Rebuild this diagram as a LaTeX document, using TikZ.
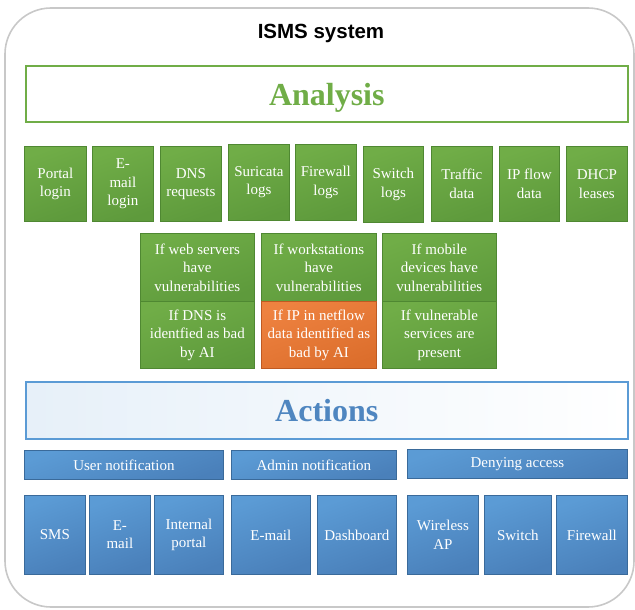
\documentclass[tikz,border=0pt]{standalone}
\usepackage{fontspec}
\setmainfont{Liberation Serif}
\newfontfamily\titlefont{Liberation Sans}
\definecolor{gA}{HTML}{70AD47}
\definecolor{gB}{HTML}{5E9A3C}
\definecolor{gE}{HTML}{4F8832}
\definecolor{oA}{HTML}{EE8240}
\definecolor{oB}{HTML}{DC6E2C}
\definecolor{oE}{HTML}{BF5A22}
\definecolor{bA}{HTML}{5B9BD5}
\definecolor{bB}{HTML}{4A80BA}
\definecolor{bE}{HTML}{3A6A9A}
\definecolor{actblue}{HTML}{4F86C0}
\definecolor{actline}{HTML}{5B9BD5}
\definecolor{outer}{HTML}{C8C8C8}
\begin{document}
\begin{tikzpicture}[x=1pt,y=-1pt,
  base/.style={anchor=north west, inner sep=0pt, align=center, text=white,
    font=\fontsize{15}{18.5}\selectfont, line width=0.8pt},
  gbox/.style={base, draw=gE, top color=gA, bottom color=gB, shading angle=20},
  obox/.style={base, draw=oE, top color=oA, bottom color=oB, shading angle=20},
  bbox/.style={base, draw=bE, top color=bA, bottom color=bB, shading angle=20},
  headbox/.style={anchor=north west, inner sep=0pt, line width=1.6pt,
    font=\fontsize{32}{36}\selectfont\bfseries}
]
\useasboundingbox (0,0) rectangle (635,610);
\draw[outer, line width=1.6pt, rounded corners=46pt] (5,8) rectangle (634,607);
\node[font=\titlefont\bfseries\fontsize{20.5}{24}\selectfont] (title) at (321,33) {ISMS system};

\node[headbox, draw=gA, fill=white, text=gA, minimum width=602pt, minimum height=56pt, text depth=0pt] (analysis) at (25,65) {\raisebox{-2pt}{Analysis}};

\node[gbox, minimum width=62pt, minimum height=75pt] (portal) at (24,146) {Portal\\login};
\node[gbox, minimum width=61pt, minimum height=75pt] (email) at (92,146) {E-\\mail\\login};
\node[gbox, minimum width=61pt, minimum height=75pt] (dns) at (160,146) {DNS\\requests};
\node[gbox, minimum width=61pt, minimum height=76pt] (suricata) at (228,144) {Suricata\\logs};
\node[gbox, minimum width=61pt, minimum height=76pt] (firewall) at (295,144) {Firewall\\logs};
\node[gbox, minimum width=60pt, minimum height=76pt] (switch) at (363,146) {Switch\\logs};
\node[gbox, minimum width=61pt, minimum height=75pt] (traffic) at (431,146) {Traffic\\data};
\node[gbox, minimum width=60pt, minimum height=75pt] (ipflow) at (499,146) {IP flow\\data};
\node[gbox, minimum width=61pt, minimum height=75pt] (dhcp) at (566,146) {DHCP\\leases};

\node[gbox, minimum width=114pt, minimum height=68pt] (web) at (140,233) {If web servers\\have\\vulnerabilities};
\node[gbox, minimum width=115pt, minimum height=68pt] (work) at (261,233) {If workstations\\have\\vulnerabilities};
\node[gbox, minimum width=114pt, minimum height=68pt] (mobile) at (382,233) {If mobile\\devices have\\vulnerabilities};
\node[gbox, minimum width=114pt, minimum height=67pt] (dnsai) at (140,301) {If DNS is\\identfied as bad\\by AI};
\node[obox, minimum width=115pt, minimum height=67pt] (ipai) at (261,301) {If IP in netflow\\data identified as\\bad by AI};
\node[gbox, minimum width=114pt, minimum height=67pt] (vuln) at (382,301) {If vulnerable\\services are\\present};

\node[headbox, draw=actline, left color=actline!15, right color=white, text=actblue, minimum width=602pt, minimum height=57pt] (actions) at (25,381) {Actions};

\node[bbox, minimum width=199pt, minimum height=29pt] (user) at (24,450) {User notification};
\node[bbox, minimum width=165pt, minimum height=29pt] (admin) at (231,450) {Admin notification};
\node[bbox, minimum width=220pt, minimum height=29pt] (deny) at (407,449) {Denying access};

\node[bbox, minimum width=61pt, minimum height=79pt] (sms) at (24,495) {SMS};
\node[bbox, minimum width=61pt, minimum height=79pt] (umail) at (89,495) {E-\\mail};
\node[bbox, minimum width=69pt, minimum height=79pt] (portal2) at (154,495) {Internal\\portal};
\node[bbox, minimum width=79pt, minimum height=79pt] (amail) at (231,495) {E-mail};
\node[bbox, minimum width=79pt, minimum height=79pt] (dash) at (317,495) {Dashboard};
\node[bbox, minimum width=71pt, minimum height=79pt] (wap) at (407,495) {Wireless\\AP};
\node[bbox, minimum width=67pt, minimum height=79pt] (sw2) at (484,495) {Switch};
\node[bbox, minimum width=71pt, minimum height=79pt] (fw2) at (556,495) {Firewall};
\end{tikzpicture}
\end{document}
